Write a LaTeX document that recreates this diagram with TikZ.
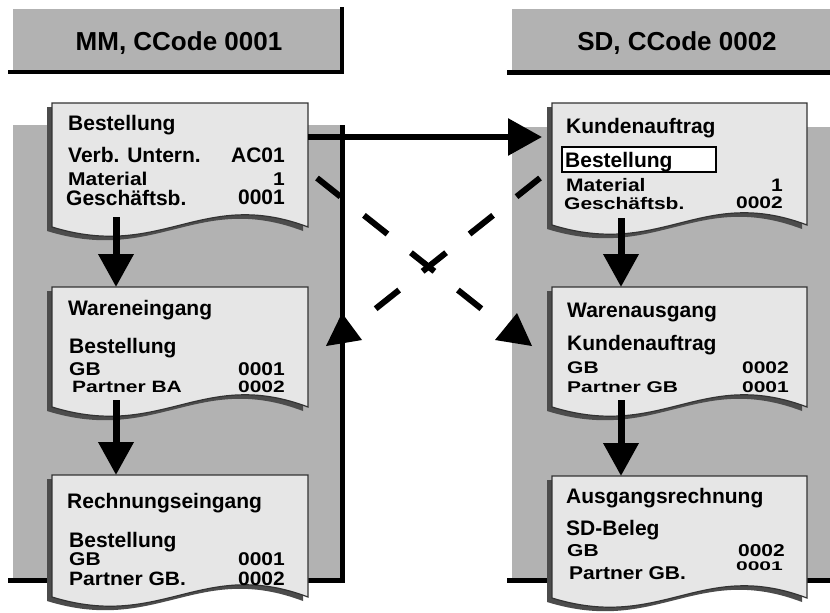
\documentclass[tikz,border=0pt]{standalone}
\usepackage{fontspec}
\usepackage{graphicx}
\setmainfont{Liberation Sans}
\usetikzlibrary{arrows.meta}
\definecolor{panelgray}{HTML}{B2B2B2}
\definecolor{docfill}{HTML}{E6E6E6}
\definecolor{docshadow}{HTML}{4C4C4C}
\definecolor{docline}{HTML}{333333}
\newcommand\docfnt{\fontsize{21}{21}\selectfont\bfseries}
\newcommand\headfnt{\fontsize{26}{26}\selectfont\bfseries}
\newcommand\sq[2]{\scalebox{1}[#1]{#2}}
% #1 x0, #2 y0, #3 x1, #4 height
\newcommand\mydoc[4]{%
  \fill[docshadow] ({#1-5},{#2+4}) -- ({#3-5},{#2+4}) -- ({#3-5},{#2+#4+4})
    .. controls ({#3-111},{#2+#4-36}) and ({#1+105},{#2+#4+38}) .. ({#1-5},{#2+#4+4}) -- cycle;
  \draw[docbox] (#1,#2) -- (#3,#2) -- (#3,{#2+#4})
    .. controls ({#3-106},{#2+#4-40}) and ({#1+110},{#2+#4+34}) .. (#1,{#2+#4}) -- cycle;
}
\tikzset{
  docbox/.style={fill=docfill, draw=docline, line width=1.2pt},
  lbl/.style={anchor=base west, inner sep=0pt, font=\docfnt},
  val/.style={anchor=base east, inner sep=0pt, font=\docfnt},
  head/.style={anchor=base, inner sep=0pt, font=\headfnt},
  flow/.style={line width=7pt, -{Triangle[length=33pt,width=34pt]}},
  link/.style={line width=6pt, -{Triangle[length=34pt,width=36pt]}},
  xlink/.style={line width=6pt, dash pattern=on 30pt off 30pt},
  edge/.style={fill=black},
}
\begin{document}
\begin{tikzpicture}[x=1pt,y=-1pt]
\useasboundingbox (0,0) rectangle (830,613);
% headers
\fill[panelgray] (13,9) rectangle (341,70);
\fill[edge] (340,7) rectangle (344,74);
\fill[edge] (8,70) rectangle (344,74);
\node[head] (hmm) at (179,50) {MM, CCode 0001};
\fill[panelgray] (512,9) rectangle (830,70);
\fill[edge] (507,70) rectangle (830,75);
\node[head] (hsd) at (677,50) {SD, CCode 0002};
% panels
\fill[panelgray] (13,125) rectangle (341,580);
\fill[edge] (8,578) rectangle (344,583);
\fill[panelgray] (512,127) rectangle (830,580);
\fill[edge] (507,578) rectangle (830,583);
% vertical return line (left panel edge)
\coordinate (vbot) at (342.5,583);
\coordinate (vtop) at (342.5,125);
\draw[line width=5pt] (vbot) -- (vtop);
% documents left
\mydoc{52}{103}{308}{124}
\mydoc{52}{287}{308}{120}
\mydoc{52}{475}{308}{122}
% documents right
\mydoc{552}{103}{807}{122}
\mydoc{552}{287}{807}{120}
\mydoc{552}{476}{807}{122}
% left doc 1
\node[lbl] (t1) at (68,130) {Bestellung};
\node[lbl] (t2) at (68,162) {Verb. Untern.};
\node[val] (v2) at (285,162) {AC01};
\node[lbl] (t3) at (68,185) {\sq{0.88}{Material}};
\node[val] (v3) at (285,185) {\sq{0.88}{1}};
\node[lbl] (t4) at (66,205) {Geschäftsb.};
\node[val] (v4) at (285,204) {0001};
% left doc 2
\node[lbl] (t5) at (68,315) {Wareneingang};
\node[lbl] (t6) at (69,353) {Bestellung};
\node[lbl] (t7) at (69,375) {\sq{0.88}{GB}};
\node[val] (v7) at (285,375) {\sq{0.88}{0001}};
\node[lbl] (t8) at (72,392) {\sq{0.78}{Partner BA}};
\node[val] (v8) at (285,392) {\sq{0.78}{0002}};
% left doc 3
\node[lbl] (t9) at (67,508) {Rechnungseingang};
\node[lbl] (t10) at (69,547) {Bestellung};
\node[lbl] (t11) at (69,565) {\sq{0.88}{GB}};
\node[val] (v11) at (285,565) {\sq{0.88}{0001}};
\node[lbl] (t12) at (69,585) {\sq{0.92}{Partner GB.}};
\node[val] (v12) at (285,585) {\sq{0.92}{0002}};
% right doc 1
\node[lbl] (r1) at (566,133) {Kundenauftrag};
\draw[fill=white, line width=1.2pt] (562,147) rectangle (716,172);
\node[lbl] (r2) at (565,167) {Bestellung};
\node[lbl] (r3) at (566,191) {\sq{0.86}{Material}};
\node[val] (rv3) at (783,191) {\sq{0.86}{1}};
\node[lbl] (r4) at (564,209) {\sq{0.8}{Geschäftsb.}};
\node[val] (rv4) at (783,208) {\sq{0.8}{0002}};
% right doc 2
\node[lbl] (r5) at (567,317) {Warenausgang};
\node[lbl] (r6) at (567,350) {Kundenauftrag};
\node[lbl] (r7) at (567,373) {\sq{0.8}{GB}};
\node[val] (rv7) at (789,373) {\sq{0.8}{0002}};
\node[lbl] (r8) at (567,392) {\sq{0.74}{Partner GB}};
\node[val] (rv8) at (789,392) {\sq{0.74}{0001}};
% right doc 3
\node[lbl] (r9) at (566,503) {Ausgangsrechnung};
\node[lbl] (r10) at (566,535) {SD-Beleg};
\node[lbl] (r11) at (567,556) {\sq{0.82}{GB}};
\node[val] (rv11) at (785,556) {\sq{0.82}{0002}};
\node[lbl] (r12) at (569,579) {\sq{0.88}{Partner GB.}};
\node[val] (rv12) at (783,570) {\sq{0.6}{0001}};
% flow arrows
\coordinate (a1s) at (116,217); \coordinate (a1e) at (116,287);
\coordinate (a2s) at (116,400); \coordinate (a2e) at (116,475);
\coordinate (b1s) at (621,218); \coordinate (b1e) at (621,287);
\coordinate (b2s) at (621,400); \coordinate (b2e) at (621,476);
\draw[flow] (a1s) -- (a1e);
\draw[flow] (a2s) -- (a2e);
\draw[flow] (b1s) -- (b1e);
\draw[flow] (b2s) -- (b2e);
% horizontal link
\coordinate (hs) at (308,137); \coordinate (he) at (542,137);
\draw[link] (hs) -- (he);
% dashed cross links
\coordinate (d1s) at (317,178); \coordinate (d1e) at (483,310);
\coordinate (d2s) at (540,178); \coordinate (d2e) at (374,310);
\draw[xlink] (d1s) -- (d1e);
\draw[xlink] (d2s) -- (d2e);
% arrow heads
\fill (342,313) -- (326,346) -- (362,340) -- cycle;
\fill (517,313) -- (495,340) -- (532,346) -- cycle;
\end{tikzpicture}
\end{document}
